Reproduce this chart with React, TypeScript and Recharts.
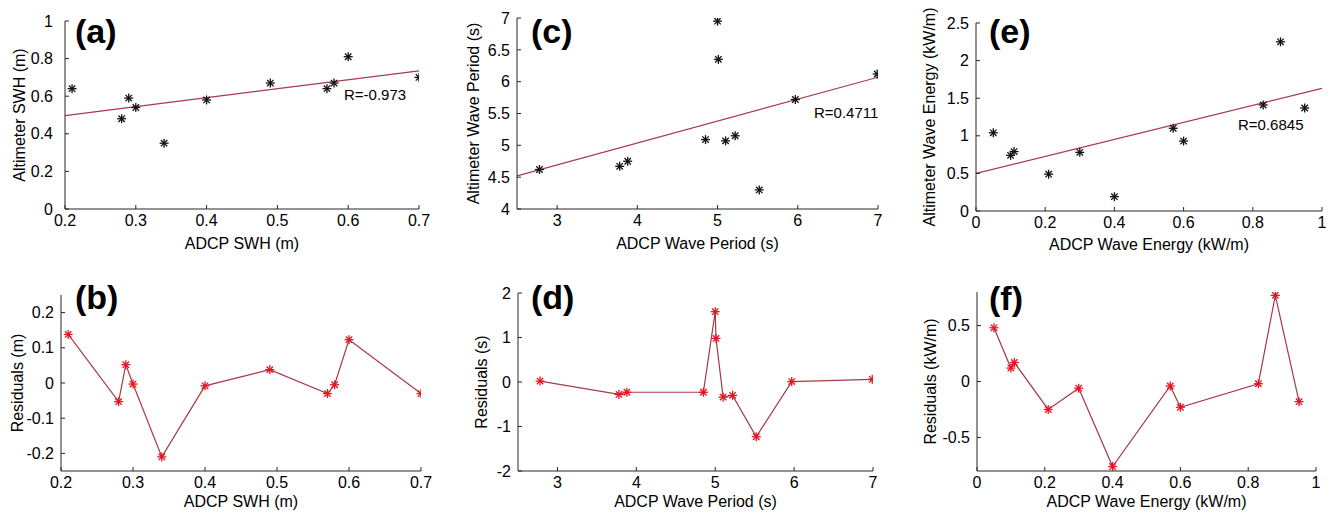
import React from "react";
import { ComposedChart, Scatter, Line, XAxis, YAxis } from "recharts";

// (a)/(b) significant wave height
const swhAdcp = [0.21, 0.28, 0.29, 0.3, 0.34, 0.4, 0.49, 0.57, 0.58, 0.6, 0.7];
const swhAlt = [0.64, 0.48, 0.59, 0.54, 0.35, 0.58, 0.67, 0.64, 0.67, 0.81, 0.7];
const swhRes = [0.138, -0.053, 0.052, -0.003, -0.21, -0.008, 0.038, -0.03, -0.005, 0.123, -0.03];
const swhFitX = [0.2, 0.7];
const swhFitY = [0.497, 0.735];

// (c)/(d) wave period
const perAdcp = [2.78, 3.78, 3.88, 4.85, 5.0, 5.01, 5.1, 5.22, 5.52, 5.97, 6.99];
const perAlt = [4.62, 4.67, 4.75, 5.09, 6.95, 6.35, 5.07, 5.15, 4.3, 5.72, 6.12];
const perRes = [0.02, -0.28, -0.23, -0.23, 1.58, 0.98, -0.34, -0.3, -1.23, 0.01, 0.06];
const perFitX = [2.5, 7];
const perFitY = [4.52, 6.07];

// (e)/(f) wave energy
const enAdcp = [0.05, 0.1, 0.11, 0.21, 0.3, 0.4, 0.57, 0.6, 0.83, 0.88, 0.95];
const enAlt = [1.04, 0.74, 0.79, 0.49, 0.78, 0.19, 1.1, 0.93, 1.41, 2.25, 1.37];
const enRes = [0.48, 0.12, 0.17, -0.25, -0.06, -0.76, -0.04, -0.23, -0.02, 0.77, -0.18];
const enFitX = [0, 1];
const enFitY = [0.5, 1.63];

const swhTicksX = [0.2, 0.3, 0.4, 0.5, 0.6, 0.7];
const swhTicksY = [0, 0.2, 0.4, 0.6, 0.8, 1];
const swhResTicks = [-0.2, -0.1, 0, 0.1, 0.2];
const perTicksX = [3, 4, 5, 6, 7];
const perTicksY = [4, 4.5, 5, 5.5, 6, 6.5, 7];
const perResTicks = [-2, -1, 0, 1, 2];
const enTicksX = [0, 0.2, 0.4, 0.6, 0.8, 1];
const enTicksY = [0, 0.5, 1, 1.5, 2, 2.5];
const enResTicks = [-0.5, 0, 0.5];

const zip = (xs: number[], ys: number[]) => xs.map((x, i) => ({ x, y: ys[i] }));

const AXIS = "#262626";
const FIT = "#a63a4a";
const FONT = "Arial, 'Liberation Sans', Helvetica, sans-serif";

function Asterisk({ cx, cy, color }: { cx?: number; cy?: number; color: string }) {
  if (cx == null || cy == null) return null;
  const r = 4.5;
  const d = 3.2;
  return (
    <g stroke={color} strokeWidth={1.3}>
      <line x1={cx - r} y1={cy} x2={cx + r} y2={cy} />
      <line x1={cx} y1={cy - r} x2={cx} y2={cy + r} />
      <line x1={cx - d} y1={cy - d} x2={cx + d} y2={cy + d} />
      <line x1={cx - d} y1={cy + d} x2={cx + d} y2={cy - d} />
    </g>
  );
}

type Box = { left: number; top: number; w: number; h: number };
type Plot = { left: number; top: number; right: number; bottom: number };

interface PanelProps {
  box: Box;
  plot: Plot;
  xDomain: number[];
  yDomain: number[];
  xTicks: number[];
  yTicks: number[];
  xLabel: string;
  yLabel: string;
  yLabelX: number;
  xLabelOffset: number;
  yTickMargin?: number;
  points: { x: number; y: number }[];
  fit?: { x: number; y: number }[];
  residual?: boolean;
}

function Panel(p: PanelProps) {
  const { box, plot } = p;
  const tickStyle = { fill: "#000", fontSize: 16, fontFamily: FONT };
  return (
    <div style={{ position: "absolute", left: box.left, top: box.top }}>
      <ComposedChart
        width={box.w}
        height={box.h}
        margin={{
          top: plot.top - box.top,
          right: box.left + box.w - plot.right,
          left: 0,
          bottom: 0,
        }}
      >
        <XAxis
          type="number"
          dataKey="x"
          domain={p.xDomain}
          ticks={p.xTicks}
          allowDataOverflow
          height={box.top + box.h - plot.bottom}
          stroke={AXIS}
          tickSize={-4}
          tickMargin={10}
          tick={tickStyle}
          interval={0}
          label={{
            value: p.xLabel,
            position: "insideBottom",
            offset: p.xLabelOffset,
            style: { fill: "#000", fontSize: 16, fontFamily: FONT },
          }}
        />
        <YAxis
          type="number"
          dataKey="y"
          domain={p.yDomain}
          ticks={p.yTicks}
          allowDataOverflow
          width={plot.left - box.left}
          stroke={AXIS}
          tickSize={-4}
          tickMargin={p.yTickMargin ?? 11}
          tick={tickStyle}
          interval={0}
          label={{
            value: p.yLabel,
            angle: -90,
            position: "insideLeft",
            offset: p.yLabelX,
            style: { fill: "#000", fontSize: 16, fontFamily: FONT, textAnchor: "middle" },
          }}
        />
        {p.fit && (
          <Line
            data={p.fit}
            dataKey="y"
            stroke={FIT}
            strokeWidth={1.2}
            dot={false}
            activeDot={false}
            isAnimationActive={false}
          />
        )}
        {p.residual ? (
          <Line
            data={p.points}
            dataKey="y"
            stroke={FIT}
            strokeWidth={1.2}
            dot={(d: any) => <Asterisk key={d.index} cx={d.cx} cy={d.cy} color="#e3131f" />}
            activeDot={false}
            isAnimationActive={false}
          />
        ) : (
          <Scatter
            data={p.points}
            shape={(d: any) => <Asterisk cx={d.cx} cy={d.cy} color="#111" />}
            isAnimationActive={false}
          />
        )}
      </ComposedChart>
    </div>
  );
}

export default function App() {
  const top = { top: 0, w: 446, h: 256 };
  const bot = { top: 256, w: 446, h: 257 };
  return (
    <div
      style={{
        position: "absolute",
        left: 0,
        top: 0,
        width: 1338,
        height: 513,
        background: "#fff",
        overflow: "hidden",
      }}
    >
      <Panel
        box={{ left: 0, ...top }}
        plot={{ left: 65, top: 21, right: 419, bottom: 209 }}
        xDomain={[0.2, 0.7]}
        yDomain={[0, 1]}
        xTicks={swhTicksX}
        yTicks={swhTicksY}
        xLabel="ADCP SWH (m)"
        yLabel="Altimeter SWH (m)"
        yLabelX={19}
        xLabelOffset={7}
        yTickMargin={16}
        points={zip(swhAdcp, swhAlt)}
        fit={zip(swhFitX, swhFitY)}
      />
      <Panel
        box={{ left: 446, ...top }}
        plot={{ left: 517, top: 18, right: 878, bottom: 209 }}
        xDomain={[2.5, 7]}
        yDomain={[4, 7]}
        xTicks={perTicksX}
        yTicks={perTicksY}
        xLabel="ADCP Wave Period (s)"
        yLabel="Altimeter Wave Period (s)"
        yLabelX={27}
        xLabelOffset={7}
        points={zip(perAdcp, perAlt)}
        fit={zip(perFitX, perFitY)}
      />
      <Panel
        box={{ left: 892, ...top }}
        plot={{ left: 976, top: 23, right: 1322, bottom: 211 }}
        xDomain={[0, 1]}
        yDomain={[0, 2.5]}
        xTicks={enTicksX}
        yTicks={enTicksY}
        xLabel="ADCP Wave Energy (kW/m)"
        yLabel="Altimeter Wave Energy (kW/m)"
        yLabelX={37}
        xLabelOffset={6}
        points={zip(enAdcp, enAlt)}
        fit={zip(enFitX, enFitY)}
      />
      <Panel
        box={{ left: 0, ...bot }}
        plot={{ left: 61, top: 295, right: 421, bottom: 471 }}
        xDomain={[0.2, 0.7]}
        yDomain={[-0.25, 0.25]}
        xTicks={swhTicksX}
        yTicks={swhResTicks}
        xLabel="ADCP SWH (m)"
        yLabel="Residuals (m)"
        yLabelX={17}
        xLabelOffset={6}
        points={zip(swhAdcp, swhRes)}
        residual
      />
      <Panel
        box={{ left: 446, ...bot }}
        plot={{ left: 518, top: 293, right: 873, bottom: 471 }}
        xDomain={[2.5, 7]}
        yDomain={[-2, 2]}
        xTicks={perTicksX}
        yTicks={perResTicks}
        xLabel="ADCP Wave Period (s)"
        yLabel="Residuals (s)"
        yLabelX={35}
        xLabelOffset={6}
        points={zip(perAdcp, perRes)}
        residual
      />
      <Panel
        box={{ left: 892, ...bot }}
        plot={{ left: 977, top: 292, right: 1316, bottom: 471 }}
        xDomain={[0, 1]}
        yDomain={[-0.8, 0.8]}
        xTicks={enTicksX}
        yTicks={enResTicks}
        xLabel="ADCP Wave Energy (kW/m)"
        yLabel="Residuals (kW/m)"
        yLabelX={38}
        xLabelOffset={6}
        points={zip(enAdcp, enRes)}
        residual
      />
      <svg
        width={1338}
        height={513}
        style={{ position: "absolute", left: 0, top: 0, pointerEvents: "none" }}
        fontFamily={FONT}
      >
        <g fontSize={34} fontWeight="bold" fill="#000">
          <text x={75} y={43}>(a)</text>
          <text x={531} y={43}>(c)</text>
          <text x={989} y={43}>(e)</text>
          <text x={75} y={309}>(b)</text>
          <text x={531} y={309}>(d)</text>
          <text x={989} y={310}>(f)</text>
        </g>
        <g fontSize={15} fill="#000">
          <text x={344} y={100}>R=-0.973</text>
          <text x={814} y={118}>R=0.4711</text>
          <text x={1238} y={130}>R=0.6845</text>
        </g>
      </svg>
    </div>
  );
}
